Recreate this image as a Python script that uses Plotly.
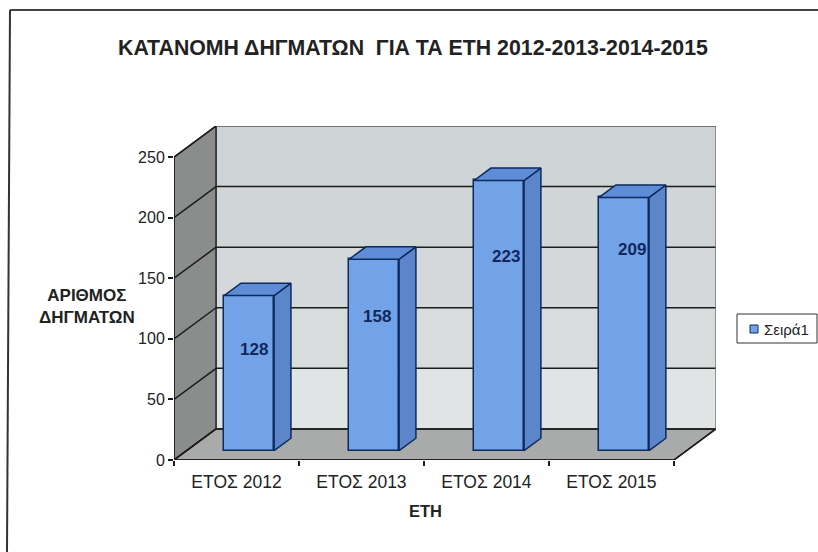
import plotly.graph_objects as go

# ---- data ----
categories = ["ΕΤΟΣ 2012", "ΕΤΟΣ 2013", "ΕΤΟΣ 2014", "ΕΤΟΣ 2015"]
values = [128, 158, 223, 209]
series_name = "Σειρά1"
y_ticks = [0, 50, 100, 150, 200, 250]
title = "ΚΑΤΑΝΟΜΗ ΔΗΓΜΑΤΩΝ\u00a0\u00a0ΓΙΑ ΤΑ ΕΤΗ 2012-2013-2014-2015"

# ---- projection of the 3-D box, in axis units ----
W, H = 818, 552
L, R, T, B = 174, 716, 126, 460      # plot area in pixels
PX_X = 499 / 4                       # pixels per category
PX_Y = 302 / 250                     # pixels per unit value
DX = 42 / PX_X                       # depth of the box in category units
DY = 31 / PX_Y                       # depth of the box in value units
BAR_W = 0.40
BAR_POS = 0.30                       # front of bar as a share of box depth
BAR_DEPTH = 0.40
N = len(categories)
YMAX = y_ticks[-1]

LINE = "#1c1c1c"
BAR_LINE = "#0d2a5c"
BAR_FILL = "#72a2e8"
FONT = "Liberation Sans"
shapes = []


def px(x):
    return (x - L) / (R - L)


def py(y):
    return (B - y) / (B - T)


def poly(pts):
    return "M" + "L".join(f"{x},{y}" for x, y in pts) + "Z"


def add_poly(pts, fill, line=LINE, width=1.5):
    shapes.append(dict(type="path", path=poly(pts), xref="x", yref="y", layer="below",
                       fillcolor=fill, line=dict(color=line, width=width)))


# back wall, one band per tick interval
bands = ["#e0e4e4", "#d8dcdd", "#d4d8da", "#d0d5d8", "#ced3d6"]
for (a, b), c in zip(zip(y_ticks[:-1], y_ticks[1:]), bands):
    add_poly([(DX, a + DY), (N + DX, a + DY), (N + DX, b + DY), (DX, b + DY)], c, line=c, width=0)
# left wall
add_poly([(0, 0), (DX, DY), (DX, YMAX + DY), (0, YMAX)], "#8b8d8d", width=1.5)
# floor
add_poly([(0, 0), (DX, DY), (N + DX, DY), (N, 0)], "#a9abab", width=1.5)
# gridlines
for t in y_ticks:
    shapes.append(dict(type="line", xref="x", yref="y", layer="below",
                       x0=0, y0=t, x1=DX, y1=t + DY, line=dict(color=LINE, width=1.5)))
    shapes.append(dict(type="line", xref="x", yref="y", layer="below",
                       x0=DX, y0=t + DY, x1=N + DX, y1=t + DY,
                       line=dict(color="#555555" if t == YMAX else LINE, width=1.5)))
# right edge of the back wall and axis lines
shapes.append(dict(type="line", xref="x", yref="y", layer="below", x0=N + DX, y0=DY,
                   x1=N + DX, y1=YMAX + DY, line=dict(color="#777777", width=1.5)))
shapes.append(dict(type="line", xref="x", yref="y", layer="above", x0=0, y0=0,
                   x1=N, y1=0, line=dict(color=LINE, width=1.5)))
shapes.append(dict(type="line", xref="x", yref="y", layer="above", x0=0, y0=0,
                   x1=0, y1=YMAX, line=dict(color=LINE, width=1.5)))
shapes.append(dict(type="line", xref="x", yref="y", layer="above", x0=N, y0=0,
                   x1=N + DX, y1=DY, line=dict(color=LINE, width=1.5)))
# frame of the scanned page: top and left edges only
shapes.append(dict(type="line", xref="paper", yref="paper", layer="above",
                   x0=px(10), y0=py(10), x1=px(818), y1=py(10),
                   line=dict(color="#444444", width=2)))
shapes.append(dict(type="line", xref="paper", yref="paper", layer="above",
                   x0=px(10), y0=py(10), x1=px(7), y1=py(552),
                   line=dict(color="#333333", width=2)))
# legend box and swatch
shapes.append(dict(type="rect", xref="paper", yref="paper", layer="above",
                   x0=px(737), y0=py(343), x1=px(817), y1=py(314),
                   fillcolor="white", line=dict(color="#333333", width=1)))
shapes.append(dict(type="rect", xref="paper", yref="paper", layer="above",
                   x0=px(750), y0=py(333), x1=px(758), y1=py(325),
                   fillcolor=BAR_FILL, line=dict(color=BAR_LINE, width=1)))

fig = go.Figure()

x0s = [i + 0.5 - BAR_W / 2 + BAR_POS * DX for i in range(N)]
base = BAR_POS * DY
ddx, ddy = BAR_DEPTH * DX, BAR_DEPTH * DY

# front faces
fig.add_trace(go.Bar(
    x=[x + BAR_W / 2 for x in x0s], y=values, base=base, width=BAR_W, name=series_name,
    marker=dict(color=BAR_FILL, line=dict(color=BAR_LINE, width=1.5)),
    showlegend=False))

# side and top faces
for x, v in zip(x0s, values):
    xr = x + BAR_W
    top = base + v
    fig.add_trace(go.Scatter(
        x=[xr, xr + ddx, xr + ddx, xr, xr], y=[base, base + ddy, top + ddy, top, base],
        mode="lines", fill="toself", fillcolor="#5c86c9",
        line=dict(color=BAR_LINE, width=1.5), showlegend=False, hoverinfo="skip"))
    fig.add_trace(go.Scatter(
        x=[x, xr, xr + ddx, x + ddx, x], y=[top, top, top + ddy, top + ddy, top],
        mode="lines", fill="toself", fillcolor="#5f8cd6",
        line=dict(color=BAR_LINE, width=1.5), showlegend=False, hoverinfo="skip"))

label_shift = [-54, -57, -76, -52]
label_xshift = [5, 3, 7, 8]
annotations = [
    dict(x=x + BAR_W / 2, y=base + v, xref="x", yref="y", text=f"<b>{v}</b>", showarrow=False,
         yshift=s, xshift=xs, font=dict(family=FONT, size=17, color="#10285a"))
    for x, v, s, xs in zip(x0s, values, label_shift, label_xshift)
]
annotations.append(dict(x=px(87), y=py(306), xref="paper", yref="paper",
                        xanchor="center", yanchor="middle",
                        text="<b>ΑΡΙΘΜΟΣ<br>ΔΗΓΜΑΤΩΝ</b>", showarrow=False,
                        font=dict(family=FONT, size=17, color="#222222")))
annotations.append(dict(x=px(425), y=py(511), xref="paper", yref="paper",
                        xanchor="center", yanchor="middle",
                        text="<b>ΕΤΗ</b>", showarrow=False,
                        font=dict(family=FONT, size=16.5, color="#222222")))
annotations.append(dict(x=px(762), y=py(329), xref="paper", yref="paper",
                        xanchor="left", yanchor="middle",
                        text=series_name, showarrow=False,
                        font=dict(family=FONT, size=15, color="#222222")))

fig.update_layout(
    width=W, height=H, autosize=False,
    margin=dict(l=L, r=W - R, t=T, b=H - B, pad=0),
    paper_bgcolor="white", plot_bgcolor="white", showlegend=False,
    font=dict(family=FONT, size=16, color="#222222"),
    title=dict(text=f"<b>{title}</b>", x=413 / W, xanchor="center", y=1 - 48 / H, yanchor="middle",
               font=dict(family=FONT, size=21.3, color="#222222")),
    xaxis=dict(range=[0, N + DX], tickvals=[i + 0.5 for i in range(N)], ticktext=categories,
               showgrid=False, zeroline=False, showline=False, ticks="", ticklabelstandoff=9,
               tickfont=dict(size=17.5),
               minor=dict(tickvals=list(range(N + 1)), ticks="outside", ticklen=5, tickwidth=1.5,
                          tickcolor=LINE, showgrid=False)),
    yaxis=dict(range=[0, YMAX + DY], tickvals=y_ticks, showgrid=False, zeroline=False,
               showline=False, ticks="outside", ticklen=5, tickwidth=1.5, tickcolor=LINE,
               tickfont=dict(size=16)),
    shapes=shapes, annotations=annotations, bargap=0,
)
fig.write_html("out.html", config={"displayModeBar": False},
               post_script="document.body.style.margin='0';document.documentElement.style.overflow='hidden';")
